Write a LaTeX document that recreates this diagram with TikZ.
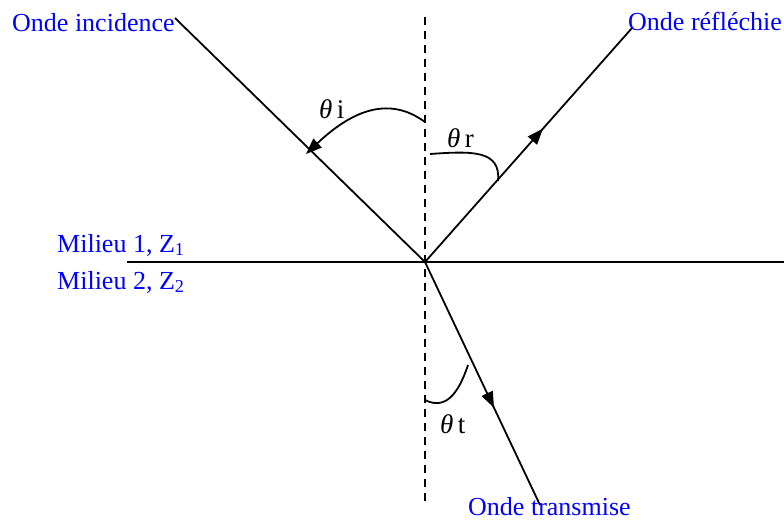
\documentclass[tikz,border=0pt]{standalone}
\usepackage{fontspec}
\setmainfont{Liberation Serif}
\usetikzlibrary{arrows.meta,decorations.markings}
\definecolor{lblblue}{RGB}{0,0,255}
\begin{document}
\begin{tikzpicture}[x=1pt,y=-1pt,
  ray/.style={line width=1.8pt},
  tip/.style={-{Triangle[length=16pt,width=12pt]}},
  midtip/.style={postaction={decorate},decoration={markings,mark=at position #1 with {\arrow{Triangle[length=16pt,width=12pt]}}}},
  lbl/.style={text=lblblue,font=\fontsize{26}{30}\selectfont,inner sep=0pt,anchor=base west},
  ang/.style={font=\fontsize{27}{30}\selectfont,inner sep=0pt,anchor=base west}]
\useasboundingbox (0,0) rectangle (784,520);
\coordinate (O) at (425,262);
\coordinate (Itop) at (175,18);
\coordinate (Rtop) at (632,28);
\coordinate (Tbot) at (540,505);
\coordinate (Ntop) at (425,17);
\coordinate (Nbot) at (425,505);
\coordinate (Hl) at (127,262);
\coordinate (Hr) at (784,262);
% normal and interface
\draw[line width=1.8pt,dash pattern=on 8pt off 6pt] (Ntop) -- (Nbot);
\draw[ray] (Hl) -- (Hr);
% rays
\draw[ray] (Itop) -- (O);
\draw[ray,midtip=0.57] (O) -- (Rtop);
\draw[ray,midtip=0.60] (O) -- (Tbot);
% angle arcs
\coordinate (ai1) at (425,122);
\coordinate (ai2) at (306,154);
\draw[ray,tip] (ai1) .. controls (395,100) and (360,103) .. (ai2);
\coordinate (ar1) at (430,154);
\coordinate (ar2) at (498,181);
\draw[ray] (ar1) .. controls (472,151) and (501,150) .. (ar2);
\coordinate (at1) at (468,365);
\coordinate (at2) at (425,400);
\draw[ray] (at1) .. controls (458,395) and (445,410) .. (at2);
% labels
\node[lbl] (tinc) at (12,31) {Onde incidence};
\node[lbl] (tref) at (628,30) {Onde réfléchie};
\node[lbl] (ttra) at (468,515) {Onde transmise};
\node[lbl] (m1) at (57,252) {Milieu 1, Z\textsubscript{1}};
\node[lbl] (m2) at (57,289) {Milieu 2, Z\textsubscript{2}};
\node[ang] (thi) at (319,118) {\textit{θ}\,i};
\node[ang] (thr) at (447,147) {\textit{θ}\,r};
\node[ang] (tht) at (440,433) {\textit{θ}\,t};
\end{tikzpicture}
\end{document}
